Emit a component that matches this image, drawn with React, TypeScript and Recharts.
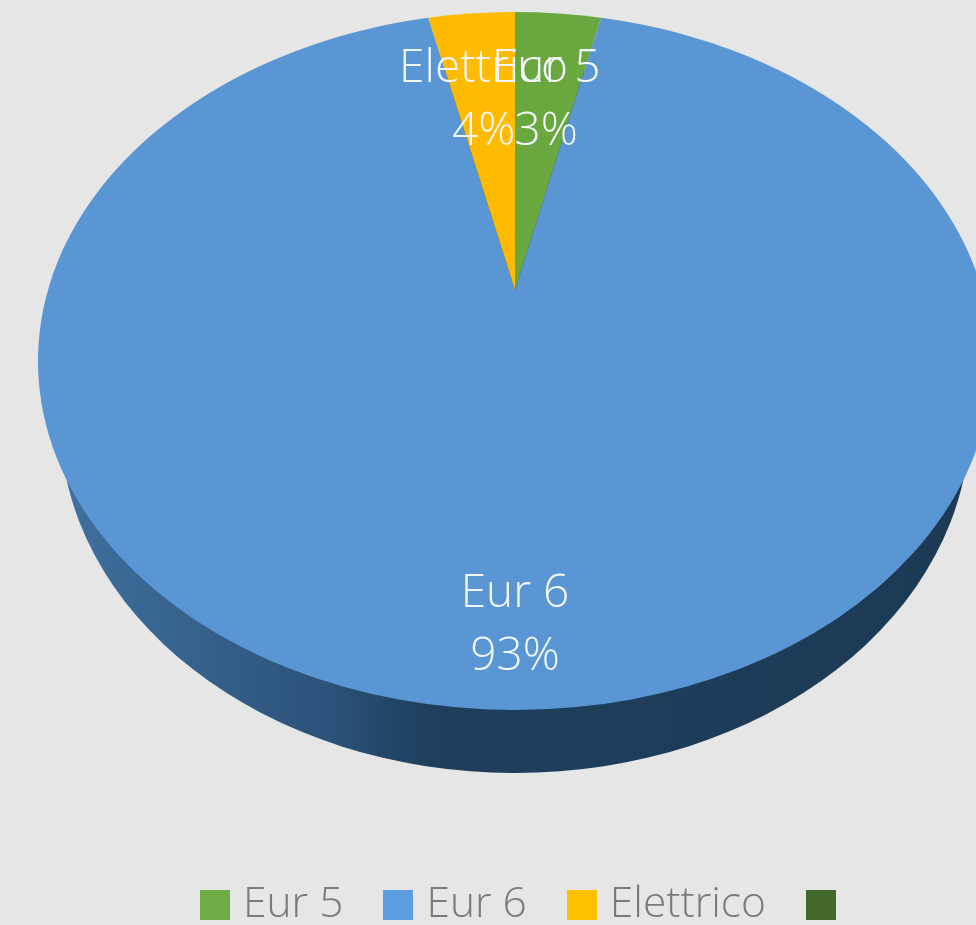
import { PieChart, Pie, Cell, Legend } from "recharts";

const names = ["Eur 5", "Eur 6", "Elettrico", ""];
const shares = [3.49, 93, 3.51, 0];
const sliceColors = ["#6aa83f", "#5996d3", "#febb00", "#43682b"];
const legendColors = ["#70ad47", "#5b9fe0", "#ffc000", "#43682b"];

const data = names.map((name, i) => ({ name, value: shares[i] }));

// tilted disc: the top face is an ellipse and the slices meet at a point above its centre
const CX = 515;
const CY = 361;
const RX = 477;
const RY = 349;
const APEX_Y = 290;
const TILT = 1.42;

const FONT = '"Open Sans", sans-serif';

function edgePoint(clockwiseDeg: number) {
  const t = (clockwiseDeg * Math.PI) / 180;
  const dx = Math.sin(t) * TILT;
  const dy = -Math.cos(t);
  const oy = APEX_Y - CY;
  const a = (dx * dx) / (RX * RX) + (dy * dy) / (RY * RY);
  const b = (2 * oy * dy) / (RY * RY);
  const c = (oy * oy) / (RY * RY) - 1;
  const k = (-b + Math.sqrt(b * b - 4 * a * c)) / (2 * a);
  return { x: CX + dx * k, y: APEX_Y + dy * k };
}

function TiltedSlice(props: any) {
  const { startAngle, endAngle, fill, name } = props;
  const from = 90 - startAngle;
  const to = 90 - endAngle;
  const p0 = edgePoint(from);
  const p1 = edgePoint(to);
  const large = to - from > 180 ? 1 : 0;
  const d = `M${CX},${APEX_Y} L${p0.x},${p0.y} A${RX},${RY} 0 ${large} 1 ${p1.x},${p1.y} Z`;
  return (
    <g>
      {/* the side wall goes in with the first slice so that it stays under all of them */}
      {name === names[0] && (
        <>
          <defs>
            <linearGradient id="wall" gradientUnits="userSpaceOnUse" x1="60" y1="0" x2="970" y2="0">
              <stop offset="0" stopColor="#3f709f" />
              <stop offset="0.3" stopColor="#2b5278" />
              <stop offset="0.4" stopColor="#1f3f5d" />
              <stop offset="1" stopColor="#1c3a55" />
            </linearGradient>
          </defs>
          <ellipse cx={CX} cy={420} rx={455} ry={353} fill="url(#wall)" />
        </>
      )}
      {to > from && <path d={d} fill={fill} />}
    </g>
  );
}

function SliceLabel(props: any) {
  const { midAngle, name, percent, value } = props;
  if (!value) return null;
  const big = value > 50;
  const t = ((90 - midAngle) * Math.PI) / 180;
  const x = big ? CX : CX + Math.sin(t) * TILT * 201;
  const y = big ? 607 : 82;
  return (
    <text x={x} textAnchor="middle" fill="#f2f7fb" fontFamily={FONT} fontWeight={300} fontSize={46}>
      <tspan x={x} y={y}>{name}</tspan>
      <tspan x={x} y={y + 63}>{`${Math.round(percent * 100)}%`}</tspan>
    </text>
  );
}

function LegendRow() {
  return (
    <div style={{ display: "flex", alignItems: "center", gap: 40, fontFamily: FONT, fontWeight: 300, fontSize: 42.5, color: "#7a7a7a", lineHeight: "40px", whiteSpace: "nowrap" }}>
      {names.map((name, i) => (
        <div key={i} style={{ display: "flex", alignItems: "center", gap: 13 }}>
          <span style={{ width: 30, height: 30, background: legendColors[i], display: "block", marginTop: 7 }} />
          {name && <span>{name}</span>}
        </div>
      ))}
    </div>
  );
}

export default function App() {
  return (
    <div style={{ position: "absolute", left: 0, top: 0, width: 976, height: 925, background: "#e6e6e6", overflow: "hidden", filter: "blur(0.5px)" }}>
      <PieChart width={976} height={925} margin={{ top: 0, right: 0, bottom: 0, left: 0 }}>
        <Pie
          data={data}
          dataKey="value"
          nameKey="name"
          cx={CX}
          cy={CY}
          outerRadius={RY}
          startAngle={90}
          endAngle={-270}
          stroke="none"
          shape={TiltedSlice}
          label={SliceLabel}
          labelLine={false}
          isAnimationActive={false}
        >
          {data.map((d, i) => (
            <Cell key={d.name + i} fill={sliceColors[i]} />
          ))}
        </Pie>
        <Legend content={LegendRow} wrapperStyle={{ position: "absolute", left: 200, top: 881, width: "auto", bottom: "auto" }} />
      </PieChart>
    </div>
  );
}
